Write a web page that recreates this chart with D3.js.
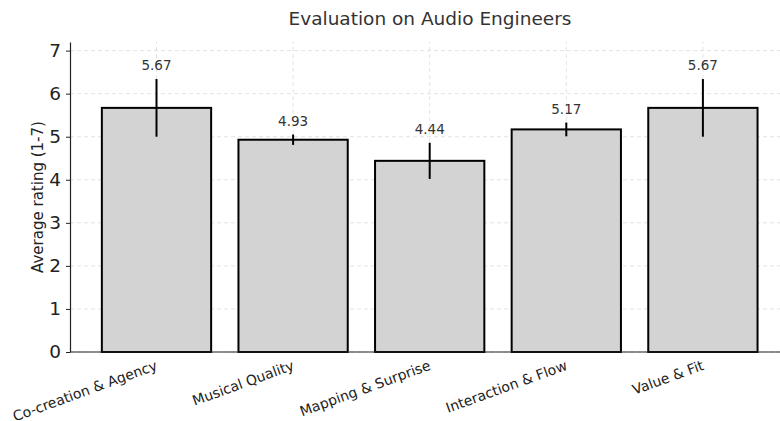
<!DOCTYPE html>
<html>
<head>
<meta charset="utf-8">
<script src="https://cdn.jsdelivr.net/npm/d3@7"></script>
<style>
  body { margin: 0; background: #fff; }
  svg { font-family: "DejaVu Sans", sans-serif; }
</style>
</head>
<body>
<div id="chart"></div>
<script>
// Data -------------------------------------------------------
const categories = ["Co-creation & Agency", "Musical Quality", "Mapping & Surprise", "Interaction & Flow", "Value & Fit"];
const means = [5.67, 4.93, 4.44, 5.17, 5.67];
const errors = [0.67, 0.12, 0.42, 0.16, 0.67];
const yTicks = [0, 1, 2, 3, 4, 5, 6, 7];

const width = 780, height = 421;
const margin = { left: 70, top: 42, bottom: 69 };
const y0 = height - margin.bottom; // 352

const svg = d3.select("#chart")
    .append("svg")
    .attr("width", width)
    .attr("height", height);

// scales
const x = d3.scaleBand()
    .domain(categories)
    .range([88.2, 771.2])
    .paddingInner(0.2)
    .paddingOuter(0.1);

const y = d3.scaleLinear()
    .domain([0, 7.2])
    .range([y0, margin.top]);

// grid lines (dashed, behind bars)
svg.append("g")
    .selectAll("line")
    .data(yTicks)
    .enter().append("line")
    .attr("x1", margin.left).attr("x2", width)
    .attr("y1", d => y(d)).attr("y2", d => y(d))
    .attr("stroke", "#dcdcdc")
    .attr("stroke-width", 0.8)
    .attr("stroke-dasharray", "4,3");

svg.append("g")
    .selectAll("line")
    .data(categories)
    .enter().append("line")
    .attr("x1", d => x(d) + x.bandwidth() / 2).attr("x2", d => x(d) + x.bandwidth() / 2)
    .attr("y1", y0).attr("y2", margin.top)
    .attr("stroke", "#dcdcdc")
    .attr("stroke-width", 0.8)
    .attr("stroke-dasharray", "4,3");

// bars
svg.append("g")
    .selectAll("rect")
    .data(categories)
    .enter().append("rect")
    .attr("x", d => x(d))
    .attr("y", (d, i) => y(means[i]))
    .attr("width", x.bandwidth())
    .attr("height", (d, i) => y0 - y(means[i]))
    .attr("fill", "#d3d3d3")
    .attr("stroke", "#000")
    .attr("stroke-width", 2);

// error bars
svg.append("g")
    .selectAll("line")
    .data(categories)
    .enter().append("line")
    .attr("x1", d => x(d) + x.bandwidth() / 2).attr("x2", d => x(d) + x.bandwidth() / 2)
    .attr("y1", (d, i) => y(means[i] - errors[i]))
    .attr("y2", (d, i) => y(means[i] + errors[i]))
    .attr("stroke", "#000")
    .attr("stroke-width", 2);

// value labels
svg.append("g")
    .selectAll("text")
    .data(categories)
    .enter().append("text")
    .attr("x", d => x(d) + x.bandwidth() / 2)
    .attr("y", (d, i) => y(means[i] + errors[i]) - 9)
    .attr("text-anchor", "middle")
    .attr("font-size", 13.5)
    .attr("fill", "#333")
    .text((d, i) => means[i].toFixed(2));

// y axis
const yAxis = svg.append("g")
    .attr("transform", "translate(" + margin.left + ",0)")
    .call(d3.axisLeft(y).tickValues(yTicks).tickSize(4).tickPadding(5).tickSizeOuter(0));
yAxis.select(".domain").attr("stroke", "#222").attr("stroke-width", 1.2);
yAxis.selectAll(".tick line").attr("stroke", "#222");
yAxis.selectAll("text").attr("font-size", 18.5).attr("fill", "#222").attr("font-family", "DejaVu Sans");

// x axis line
const xAxis = svg.append("g")
    .attr("transform", "translate(0," + y0 + ")")
    .call(d3.axisBottom(x).tickSize(0).tickPadding(5));
xAxis.select(".domain").attr("d", "M" + margin.left + ",0H" + width).attr("stroke", "#222").attr("stroke-width", 1.2);
xAxis.selectAll("text")
    .attr("font-size", 14)
    .attr("fill", "#222")
    .attr("font-family", "DejaVu Sans")
    .attr("text-anchor", "end")
    .attr("dx", "-0.3em")
    .attr("dy", "0.85em")
    .attr("transform", "rotate(-20)");

// axis label
svg.append("text")
    .attr("transform", "translate(43," + (y0 + margin.top) / 2 + ") rotate(-90)")
    .attr("text-anchor", "middle")
    .attr("font-size", 15)
    .attr("fill", "#222")
    .text("Average rating (1-7)");

// title
svg.append("text")
    .attr("x", 430)
    .attr("y", 25)
    .attr("text-anchor", "middle")
    .attr("font-size", 18.5)
    .attr("fill", "#333")
    .text("Evaluation on Audio Engineers");
</script>
</body>
</html>
